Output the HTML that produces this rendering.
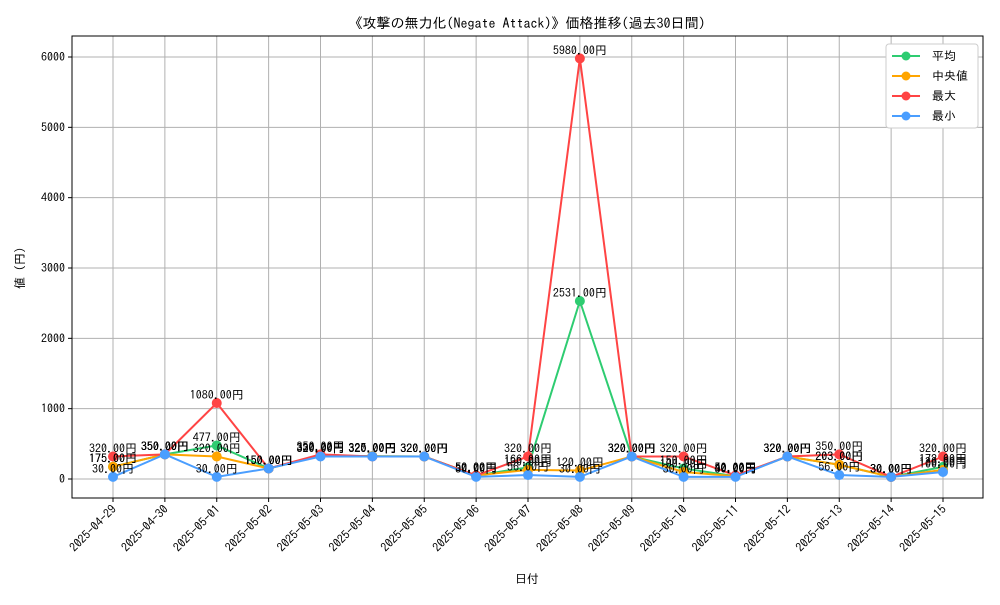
<!DOCTYPE html>
<html><head><meta charset="utf-8"><style>
body{margin:0;background:#fff}
svg text{font-family:"IPAGothic","Noto Sans CJK JP",monospace;fill:#000}
</style></head><body>
<svg id="chart" width="1000" height="600">
<text x="527" y="28" text-anchor="middle" font-size="14">《攻撃の無力化(Negate Attack)》価格推移(過去30日間)</text>
<g id="grid"></g>
<g id="axes"></g>
<g id="series"></g>
<g id="labels"></g>
<text x="527" y="583" text-anchor="middle" font-size="12">日付</text>
<text transform="translate(24,268) rotate(-90)" text-anchor="middle" font-size="12">値 (円)</text>
<g id="legend"></g>
</svg>
<script>
const dates=["2025-04-29","2025-04-30","2025-05-01","2025-05-02","2025-05-03","2025-05-04","2025-05-05","2025-05-06","2025-05-07","2025-05-08","2025-05-09","2025-05-10","2025-05-11","2025-05-12","2025-05-13","2025-05-14","2025-05-15"];
const avgVals=[175,350,477,150,330,325,320,50,166,2531,320,150,40,320,203,30,172];
const medianVals=[175,350,320,150,330,325,320,50,130,120,320,100,40,320,203,30,130];
const maxVals=[320,350,1080,150,350,320,320,50,320,5980,320,320,50,320,350,30,320];
const minVals=[30,350,30,150,320,320,320,30,56,30,320,30,30,320,56,30,100];
const yTicks=[0,1000,2000,3000,4000,5000,6000];
const seriesNames=["平均","中央値","最大","最小"];
const colors=["#2ecc71","#ffa500","#ff4444","#4a9eff"];
const L=72,R=983,T=36,B=498;
const xs=i=>113+i*(943-113)/(dates.length-1);
const ys=v=>479-v*(479-57)/6000;
const NS="http://www.w3.org/2000/svg";
function mk(t,a,p){const e=document.createElementNS(NS,t);for(const k in a)e.setAttribute(k,a[k]);p.appendChild(e);return e;}
const grid=document.getElementById('grid'),axes=document.getElementById('axes');
dates.forEach((d,i)=>{
 const g=mk('line',{x1:xs(i),x2:xs(i),y1:T,y2:B,stroke:'#b0b0b0','stroke-width':1},grid);
 
 
 const tk=mk('line',{x1:xs(i),x2:xs(i),y1:B,y2:B+4,stroke:'#000'},axes);
 
 
 const t=mk('text',{x:xs(i)+4,y:B+12,'font-size':12,'text-anchor':'end',transform:`rotate(-45 ${xs(i)+4} ${B+12})`},axes);
 t.textContent=d;
 
 
});
yTicks.forEach(v=>{
 const g=mk('line',{x1:L,x2:R,y1:ys(v),y2:ys(v),stroke:'#b0b0b0','stroke-width':1},grid);
 
 
 const tk=mk('line',{x1:L-4,x2:L,y1:ys(v),y2:ys(v),stroke:'#000'},axes);
 
 
 const t=mk('text',{x:L-7,y:ys(v)+4,'font-size':12,'text-anchor':'end'},axes);
 t.textContent=v;
 
 
});
const fr=mk('rect',{x:L,y:T,width:R-L,height:B-T,fill:'none',stroke:'#000','stroke-width':1},axes);


const all=[avgVals,medianVals,maxVals,minVals];
const sg=document.getElementById('series'),lg=document.getElementById('labels');
all.forEach((vals,s)=>{
 const p=mk('polyline',{points:vals.map((v,i)=>xs(i)+','+ys(v)).join(' '),fill:'none',stroke:colors[s],'stroke-width':2},sg);
 
 
 vals.forEach((v,i)=>{
  const c=mk('circle',{cx:xs(i),cy:ys(v),r:5,fill:colors[s]},sg);
  
  
  const t=mk('text',{x:xs(i),y:ys(v)-4,'font-size':12,'text-anchor':'middle'},lg);
  t.textContent=v.toFixed(2)+'円';
  
  
 });
});
const leg=document.getElementById('legend');
const lb=mk('rect',{x:886,y:44,width:92,height:84,fill:'#fff',stroke:'#ccc',rx:3},leg);


seriesNames.forEach((n,s)=>{
 const y=56+s*20;
 const l=mk('line',{x1:892,x2:920,y1:y,y2:y,stroke:colors[s],'stroke-width':2},leg);
 
 
 const c=mk('circle',{cx:906,cy:y,r:4.5,fill:colors[s]},leg);
 
 
 const t=mk('text',{x:932,y:y+4,'font-size':12},leg);
 t.textContent=n;
 
 
});
</script>
</body></html>
